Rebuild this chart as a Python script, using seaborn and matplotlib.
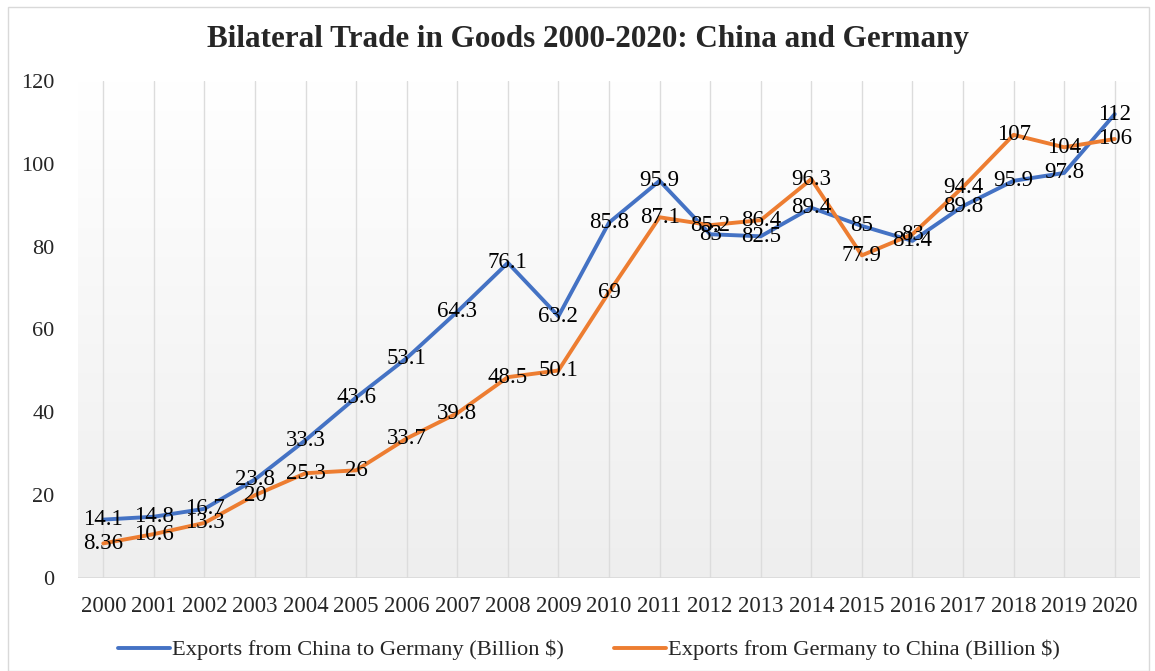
import numpy as np
import pandas as pd
import matplotlib
matplotlib.use("Agg")
import matplotlib.pyplot as plt
import seaborn as sns
from matplotlib.patches import Rectangle

years = [str(y) for y in range(2000, 2021)]
china_to_germany = [14.1, 14.8, 16.7, 23.8, 33.3, 43.6, 53.1, 64.3, 76.1, 63.2,
                    85.8, 95.9, 83, 82.5, 89.4, 85, 81.4, 89.8, 95.9, 97.8, 112]
germany_to_china = [8.36, 10.6, 13.3, 20, 25.3, 26, 33.7, 39.8, 48.5, 50.1,
                    69, 87.1, 85.2, 86.4, 96.3, 77.9, 83, 94.4, 107, 104, 106]
series_names = ["Exports from China to Germany (Billion $)",
                "Exports from Germany to China (Billion $)"]
y_ticks = [0, 20, 40, 60, 80, 100, 120]
title = "Bilateral Trade in Goods 2000-2020: China and Germany"

colors = ["#4472C4", "#ED7D31"]

sns.set_theme(style="white")
plt.rcParams["font.family"] = ["Liberation Serif", "DejaVu Serif"]

df = pd.DataFrame({
    "Year": years * 2,
    "Value": china_to_germany + germany_to_china,
    "Series": [series_names[0]] * len(years) + [series_names[1]] * len(years),
})

fig = plt.figure(figsize=(11.55, 6.71), dpi=100)
# thin outer frame of the chart
fig.patches.append(Rectangle((8 / 1155, 0.0), 1 - 14 / 1155, 1 - 7 / 671,
                             transform=fig.transFigure, fill=False,
                             edgecolor="#d9d9d9", linewidth=1.0))
ax = fig.add_axes([78 / 1155, 1 - 578 / 671, (1140 - 78) / 1155, (578 - 81) / 671])

sns.lineplot(data=df, x="Year", y="Value", hue="Series", palette=colors,
             linewidth=2.8, ax=ax, sort=False, zorder=3)

ax.set_xlim(-0.5, len(years) - 0.5)
ax.set_ylim(0, 120)

# soft vertical gradient behind the plot area
grad = np.linspace(0, 1, 256).reshape(-1, 1)
cmap = matplotlib.colors.LinearSegmentedColormap.from_list("bg", ["#eeeeee", "#ffffff"])
ax.imshow(grad, aspect="auto", cmap=cmap, origin="lower",
          extent=[-0.5, len(years) - 0.5, 0, 120], zorder=0)

# vertical gridlines at each category
for i in range(len(years)):
    ax.axvline(i, color="#dcdcdc", linewidth=1.0, zorder=1)
ax.axhline(0, color="#d9d9d9", linewidth=1.2, zorder=2)

# value labels centred on each point
for vals in (china_to_germany, germany_to_china):
    for i, v in enumerate(vals):
        ax.text(i, v, f"{v:g}", ha="center", va="center", fontsize=16.5,
                color="black", zorder=4)

for s in ax.spines.values():
    s.set_visible(False)

ax.set_yticks(y_ticks)
ax.set_yticklabels([str(t) for t in y_ticks], fontsize=16)
ax.set_xticks(range(len(years)))
ax.set_xticklabels(years, fontsize=16.5)
ax.tick_params(axis="y", length=0, pad=17)
ax.tick_params(axis="x", length=0, pad=13)
ax.set_xlabel("")
ax.set_ylabel("")

fig.suptitle(title, x=587.5 / 1155, y=1 - 40 / 671, va="center",
             fontsize=22.4, fontweight="bold")

handles, labels = ax.get_legend_handles_labels()
ax.legend_.remove()
fig.legend(handles, labels, loc="center", bbox_to_anchor=(589 / 1155, 1 - 650 / 671),
           ncol=2, frameon=False, fontsize=16.2, handlelength=2.3,
           handletextpad=0.1, columnspacing=2.2)

fig.savefig("out.png", dpi=100)
